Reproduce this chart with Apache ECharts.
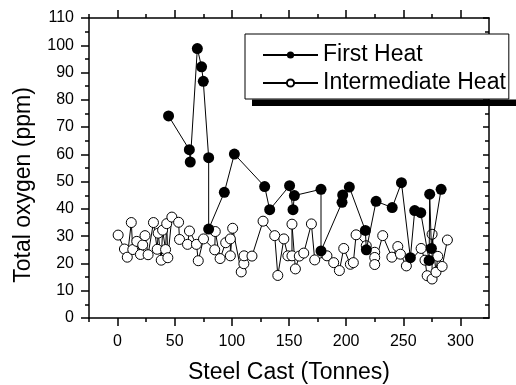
<!DOCTYPE html>
<html>
<head>
<meta charset="utf-8">
<script src="https://cdn.jsdelivr.net/npm/echarts@6/dist/echarts.min.js"></script>
<style>html,body{margin:0;padding:0;background:#fff;}#c{width:516px;height:385px;}</style>
</head>
<body>
<div id="c"></div>
<script>
// ---- data ----
const firstHeatCast = [44.6, 62.8, 63.6, 69.8, 73.5, 75.0, 79.7, 79.7, 93.4, 102.2, 128.7, 133.1, 150.5, 153.5, 154.7, 178.0, 178.0, 196.4, 197.0, 202.8, 216.8, 217.7, 226.2, 240.3, 248.4, 256.2, 260.0, 265.3, 272.6, 273.1, 274.6, 283.1];
const firstHeatOxygen = [74.1, 61.7, 57.2, 98.8, 92.1, 86.8, 58.8, 32.6, 46.1, 60.1, 48.2, 39.7, 48.5, 39.7, 44.9, 47.2, 24.6, 42.4, 45.1, 48.0, 32.1, 25.0, 42.8, 40.5, 49.6, 22.1, 39.4, 38.6, 21.1, 45.4, 25.5, 47.2];

const intermediateCast = [0.5, 6, 8.5, 12, 13.3, 16.8, 20, 22, 24, 26.7, 31.4, 34.7, 35.5, 38.2, 39.4, 42, 43, 44, 47.5, 53.4, 54.2, 61.2, 62.9, 69, 70.6, 75.2, 85, 85.5, 89.7, 94.6, 98.7, 98.7, 100.7, 108.2, 110.5, 110.7, 117.6, 127.3, 137.5, 140.2, 145.5, 149, 152.6, 152.6, 155.6, 159, 162.9, 169.6, 172.5, 183.2, 189.1, 194.1, 197.9, 203.7, 206.3, 208.7, 217.6, 225, 225, 225, 232, 240, 245.2, 247.5, 252.7, 265.6, 269, 270.9, 275.2, 275.2, 278.6, 280.2, 284, 288.6];
const intermediateOxygen = [30.4, 25.3, 22.3, 35, 25.1, 28.1, 23.3, 26.8, 30.2, 23.2, 35, 25.2, 31.1, 21.2, 32.2, 25.1, 34.6, 22.1, 37, 35.1, 28.8, 27, 31.9, 27, 21, 29, 25, 31.7, 21.8, 27.6, 29, 22.8, 32.9, 16.9, 19.9, 22.8, 22.7, 35.5, 30.2, 15.6, 29, 22.8, 22.8, 34.4, 18, 22.7, 23.8, 34.5, 21.3, 22.8, 20.3, 17.4, 25.5, 19.7, 20.3, 30.5, 26.5, 24.1, 22.2, 19.6, 30.2, 22.3, 26.2, 23.4, 19.1, 25.5, 21.2, 15.5, 14.3, 30.7, 16.8, 22.6, 18.9, 28.6];

const seriesNames = ['First Heat', 'Intermediate Heat'];
const xTitle = 'Steel Cast (Tonnes)';
const yTitle = 'Total oxygen (ppm)';
const xMajorTicks = [0, 50, 100, 150, 200, 250, 300];
const xMinorTicks = [-25, 25, 75, 125, 175, 225, 275];

// ---- chart ----
const FONT = '"Liberation Sans", Arial, Helvetica, sans-serif';
const zip = (a, b) => a.map((v, i) => [v, b[i]]);
const chart = echarts.init(document.getElementById('c'), null, {renderer: 'canvas'});

const frameLine = {show: true, onZero: false, lineStyle: {color: '#000', width: 1.5}};
const noLine = {show: false, onZero: false};
const tickStyle = {color: '#000', width: 1.5};
const baseX = {type: 'value', min: -25, max: 325, splitLine: {show: false}};

chart.setOption({
  animation: false,
  backgroundColor: '#fff',
  textStyle: {fontFamily: FONT},
  grid: {left: 89, right: 27, top: 18, bottom: 67, containLabel: false, outerBoundsMode: 'none'},
  xAxis: [
    Object.assign({}, baseX, {
      position: 'bottom',
      axisLine: frameLine,
      axisTick: {show: true, inside: false, length: 8, customValues: xMajorTicks, lineStyle: tickStyle},
      axisLabel: {show: true, customValues: xMajorTicks, color: '#000', fontSize: 16, fontFamily: FONT, margin: 16},
      name: xTitle, nameLocation: 'middle', nameGap: 43,
      nameTextStyle: {color: '#000', fontSize: 23, fontFamily: FONT}
    }),
    Object.assign({}, baseX, {
      position: 'bottom',
      axisLine: noLine,
      axisTick: {show: true, inside: false, length: 4, customValues: xMinorTicks, lineStyle: tickStyle},
      axisLabel: {show: false}
    }),
    Object.assign({}, baseX, {
      position: 'top',
      axisLine: frameLine,
      axisTick: {show: true, inside: false, length: 8, customValues: xMajorTicks, lineStyle: tickStyle},
      axisLabel: {show: false}
    }),
    Object.assign({}, baseX, {
      position: 'top',
      axisLine: noLine,
      axisTick: {show: true, inside: false, length: 4, customValues: xMinorTicks, lineStyle: tickStyle},
      axisLabel: {show: false}
    })
  ],
  yAxis: [
    {
      type: 'value', position: 'left', min: 0, max: 110, interval: 10,
      splitLine: {show: false},
      axisLine: frameLine,
      axisTick: {show: true, inside: false, length: 8, lineStyle: tickStyle},
      minorTick: {show: true, splitNumber: 2, length: 4, lineStyle: tickStyle},
      axisLabel: {color: '#000', fontSize: 16, fontFamily: FONT, margin: 15},
      name: yTitle, nameLocation: 'middle', nameGap: 54, nameRotate: 90,
      nameTextStyle: {color: '#000', fontSize: 23, fontFamily: FONT, padding: [0, 34, 0, 0]}
    },
    {
      type: 'value', position: 'right', min: 0, max: 110, interval: 10,
      splitLine: {show: false},
      axisLine: frameLine,
      axisTick: {show: true, inside: true, length: 6, lineStyle: tickStyle},
      minorTick: {show: true, splitNumber: 2, length: 4, lineStyle: tickStyle},
      axisLabel: {show: false}
    }
  ],
  legend: {
    show: true, orient: 'vertical', left: 245, top: 34,
    itemWidth: 55, itemHeight: 9, itemGap: 4, align: 'left',
    padding: [9, 3, 4, 17],
    backgroundColor: '#fff', borderColor: '#000', borderWidth: 1, borderRadius: 0,
    textStyle: {color: '#000', fontSize: 23, fontFamily: FONT, lineHeight: 24},
    data: seriesNames, z: 10
  },
  graphic: [
    {type: 'rect', z: 5, silent: true, shape: {x: 252, y: 99.5, width: 264, height: 6.5}, style: {fill: '#000'}}
  ],
  series: [
    {
      name: seriesNames[1], type: 'line', xAxisIndex: 0, yAxisIndex: 0,
      data: zip(intermediateCast, intermediateOxygen),
      symbol: 'circle', symbolSize: 10,
      lineStyle: {color: '#000', width: 1},
      itemStyle: {color: '#fff', borderColor: '#000', borderWidth: 1},
      z: 2
    },
    {
      name: seriesNames[0], type: 'line', xAxisIndex: 0, yAxisIndex: 0,
      data: zip(firstHeatCast, firstHeatOxygen),
      symbol: 'circle', symbolSize: 11,
      lineStyle: {color: '#000', width: 1},
      itemStyle: {color: '#000', borderColor: '#000', borderWidth: 0},
      z: 3
    }
  ]
});
</script>
</body>
</html>
